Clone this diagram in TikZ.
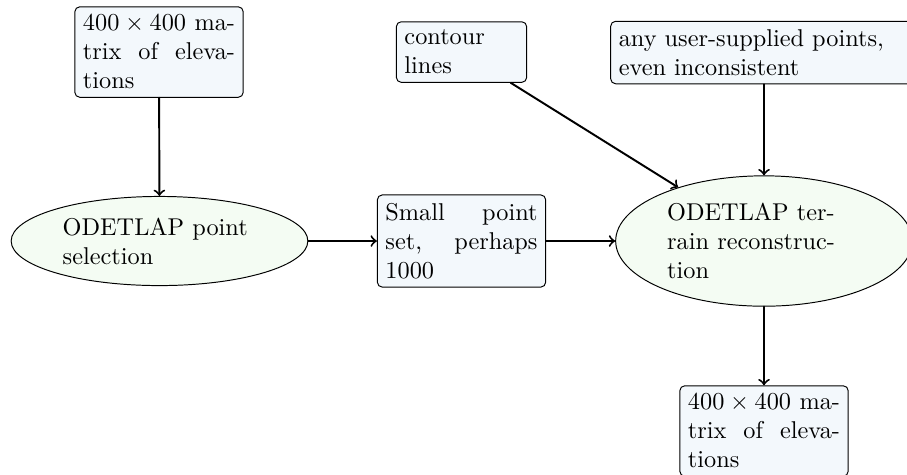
\documentclass[tikz,border=0pt]{standalone}
\usetikzlibrary{shapes.geometric}
\definecolor{boxfill}{RGB}{243,248,252}
\definecolor{ellfill}{RGB}{244,252,243}
\begin{document}
\begin{tikzpicture}[line cap=round, line join=round, >=to]
				\tikzset{databox/.style={draw, rounded corners=2pt, fill=boxfill, text width=2.2cm, align=justify},
				stepell/.style={draw, ellipse, fill=ellfill, text width=2.8cm, align=left},
				flow/.style={->, thick}}
				\useasboundingbox (0,0) rectangle (13.118,6.856);
				\node[databox] (topmat) at (2.300,6.103) {$400\times400$ matrix of elevations};
				\node[stepell] (sel) at (2.307,3.370) {ODETLAP point selection};
				\node[databox] (small) at (6.675,3.370) {Small point set, perhaps 1000};
				\node[stepell] (recon) at (11.050,3.370) {ODETLAP terrain reconstruction};
				\node[databox, text width=1.65cm, align=left] (cont) at (6.675,6.103) {contour lines};
				\node[databox, text width=4.2cm, align=left] (user) at (11.050,6.096) {any user-supplied points, even inconsistent};
				\node[databox] (botmat) at (11.050,0.622) {$400\times400$ matrix of elevations};
				\draw[flow] (topmat)--(sel);
				\draw[flow] (sel)--(small);
				\draw[flow] (small)--(recon);
				\draw[flow] (cont)--(recon);
				\draw[flow] (user)--(recon);
				\draw[flow] (recon)--(botmat);
			\end{tikzpicture}
\end{document}
